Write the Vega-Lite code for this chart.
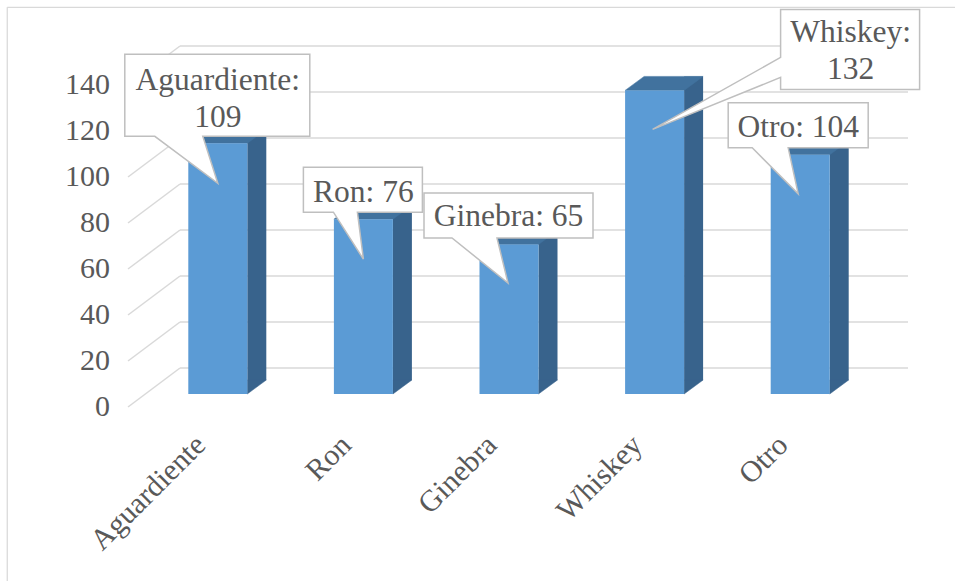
{
  "$schema": "https://vega.github.io/schema/vega-lite/v6.json",
  "width": 948,
  "height": 574,
  "autosize": "none",
  "padding": {"left": 7, "top": 7, "right": 0, "bottom": 0},
  "background": "#FFFFFF",
  "config": {
    "view": {"stroke": "#D9D9D9", "strokeWidth": 1.25, "strokeDash": [948, 1522, 574, 0]},
    "font": "Liberation Serif"
  },
  "datasets": {
    "consumo": [
      {"bebida": "Aguardiente", "valor": 109},
      {"bebida": "Ron", "valor": 76},
      {"bebida": "Ginebra", "valor": 65},
      {"bebida": "Whiskey", "valor": 132},
      {"bebida": "Otro", "valor": 104}
    ],
    "escala": [
      {"valor": 0}, {"valor": 20}, {"valor": 40}, {"valor": 60},
      {"valor": 80}, {"valor": 100}, {"valor": 120}, {"valor": 140}
    ]
  },
  "resolve": {"scale": {"x": "independent"}},
  "encoding": {
    "y": {
      "field": "valor",
      "type": "quantitative",
      "scale": {"domain": [0, 140], "range": [387, 65], "nice": false, "zero": false},
      "axis": null
    }
  },
  "layer": [
    {
      "data": {"name": "escala"},
      "encoding": {
        "x": {"datum": 0, "type": "quantitative", "scale": {"domain": [0, 5], "range": [138, 866]}, "axis": null}
      },
      "layer": [
        {
          "description": "back wall gridlines",
          "mark": {"type": "rule", "color": "#D9D9D9", "strokeWidth": 1.5, "xOffset": 35, "x2Offset": 35, "yOffset": -26},
          "encoding": {"x2": {"datum": 5}}
        },
        {
          "description": "side wall gridlines running back from the value labels",
          "mark": {"type": "rule", "color": "#D9D9D9", "strokeWidth": 1.5, "xOffset": -17, "x2Offset": 35, "yOffset": 13, "y2Offset": -26},
          "encoding": {"x2": {"datum": 0}, "y2": {"field": "valor"}}
        },
        {
          "description": "value labels at the front edge of the floor",
          "mark": {"type": "text", "dx": -35, "dy": 13, "align": "right", "baseline": "middle", "font": "Liberation Serif", "fontSize": 30, "fill": "#595959"},
          "encoding": {"text": {"field": "valor", "type": "quantitative"}}
        }
      ]
    },
    {
      "data": {"name": "consumo"},
      "encoding": {
        "x": {
          "field": "bebida",
          "type": "nominal",
          "sort": null,
          "scale": {"domain": ["Aguardiente", "Ron", "Ginebra", "Whiskey", "Otro"], "range": [138, 866], "paddingInner": 0, "paddingOuter": 0},
          "axis": {
            "title": null,
            "domain": false,
            "ticks": false,
            "tickSize": 0,
            "grid": false,
            "labelPadding": 0,
            "offset": -141,
            "labelOffset": -17,
            "labelAngle": -45,
            "labelAlign": "right",
            "labelBaseline": "middle",
            "labelFont": "Liberation Serif",
            "labelFontSize": 30,
            "labelColor": "#595959"
          }
        }
      },
      "layer": [
        {
          "description": "right side of each column",
          "mark": {"type": "bar", "width": 19, "xOffset": 39, "yOffset": -14, "y2Offset": -14, "color": "#38638C", "opacity": 1},
          "encoding": {"y2": {"datum": 0}}
        },
        {
          "description": "lower corner of the side face",
          "mark": {"type": "point", "shape": "M29.5,0 L29.5,-14 L48.5,-14 Z", "size": 4, "filled": true, "fill": "#38638C", "stroke": "#38638C", "strokeWidth": 0.5, "opacity": 1},
          "encoding": {"y": {"datum": 0, "axis": null}}
        },
        {
          "description": "top face of each column",
          "mark": {"type": "point", "shape": "M-29.5,0 L29.5,0 L48.5,-14 L-10.5,-14 Z", "size": 4, "filled": true, "fill": "#41729E", "stroke": "#41729E", "strokeWidth": 0.5, "opacity": 1}
        },
        {
          "description": "front face of each column",
          "mark": {"type": "bar", "width": 59, "color": "#5B9BD5", "opacity": 1},
          "encoding": {"y2": {"datum": 0}}
        },
        {
          "transform": [{"filter": "datum.bebida === 'Aguardiente'"}],
          "layer": [
            {"mark": {"type": "point", "shape": "M-93,-89 L92,-89 L92,-7 L-15,-7 L0,40 L-63,-7 L-93,-7 Z", "size": 4, "filled": true, "fill": "#FFFFFF", "stroke": "#BFBFBF", "strokeWidth": 1.5, "opacity": 1}},
            {
              "transform": [{"calculate": "datum.bebida + ':\\n' + datum.valor", "as": "etiqueta"}],
              "mark": {"type": "text", "dx": 0, "dy": -78, "align": "center", "baseline": "top", "lineBreak": "\n", "lineHeight": 37, "font": "Liberation Serif", "fontSize": 31.5, "fill": "#595959"},
              "encoding": {"text": {"field": "etiqueta"}}
            }
          ]
        },
        {
          "transform": [{"filter": "datum.bebida === 'Ron'"}],
          "layer": [
            {"mark": {"type": "point", "shape": "M-60,-52 L59,-52 L59,-7 L-6,-7 L0,40 L-30,-7 L-60,-7 Z", "size": 4, "filled": true, "fill": "#FFFFFF", "stroke": "#BFBFBF", "strokeWidth": 1.5, "opacity": 1}},
            {
              "transform": [{"calculate": "datum.bebida + ': ' + datum.valor", "as": "etiqueta"}],
              "mark": {"type": "text", "dx": 0, "dy": -26, "align": "center", "baseline": "middle", "font": "Liberation Serif", "fontSize": 31.5, "fill": "#595959"},
              "encoding": {"text": {"field": "etiqueta"}}
            }
          ]
        },
        {
          "transform": [{"filter": "datum.bebida === 'Ginebra'"}],
          "layer": [
            {"mark": {"type": "point", "shape": "M-85,-51.5 L84,-51.5 L84,-6.5 L-12,-6.5 L-1,38.5 L-57,-6.5 L-85,-6.5 Z", "size": 4, "filled": true, "fill": "#FFFFFF", "stroke": "#BFBFBF", "strokeWidth": 1.5, "opacity": 1}},
            {
              "transform": [{"calculate": "datum.bebida + ': ' + datum.valor", "as": "etiqueta"}],
              "mark": {"type": "text", "dx": -0.5, "dy": -28, "align": "center", "baseline": "middle", "font": "Liberation Serif", "fontSize": 31.5, "fill": "#595959"},
              "encoding": {"text": {"field": "etiqueta"}}
            }
          ]
        },
        {
          "transform": [{"filter": "datum.bebida === 'Whiskey'"}],
          "layer": [
            {"mark": {"type": "point", "shape": "M126,-81 L265,-81 L265,-1 L126,-1 L126,-13 L-2,39 L126,-33 Z", "size": 4, "filled": true, "fill": "#FFFFFF", "stroke": "#BFBFBF", "strokeWidth": 1.5, "opacity": 1}},
            {
              "transform": [{"calculate": "datum.bebida + ':\\n' + datum.valor", "as": "etiqueta"}],
              "mark": {"type": "text", "dx": 196, "dy": -73, "align": "center", "baseline": "top", "lineBreak": "\n", "lineHeight": 37, "font": "Liberation Serif", "fontSize": 31.5, "fill": "#595959"},
              "encoding": {"text": {"field": "etiqueta"}}
            }
          ]
        },
        {
          "transform": [{"filter": "datum.bebida === 'Otro'"}],
          "layer": [
            {"mark": {"type": "point", "shape": "M-72,-52 L68,-52 L68,-7 L-12,-7 L-2,39 L-48,-7 L-72,-7 Z", "size": 4, "filled": true, "fill": "#FFFFFF", "stroke": "#BFBFBF", "strokeWidth": 1.5, "opacity": 1}},
            {
              "transform": [{"calculate": "datum.bebida + ': ' + datum.valor", "as": "etiqueta"}],
              "mark": {"type": "text", "dx": -2, "dy": -26.5, "align": "center", "baseline": "middle", "font": "Liberation Serif", "fontSize": 31.5, "fill": "#595959"},
              "encoding": {"text": {"field": "etiqueta"}}
            }
          ]
        }
      ]
    }
  ]
}
